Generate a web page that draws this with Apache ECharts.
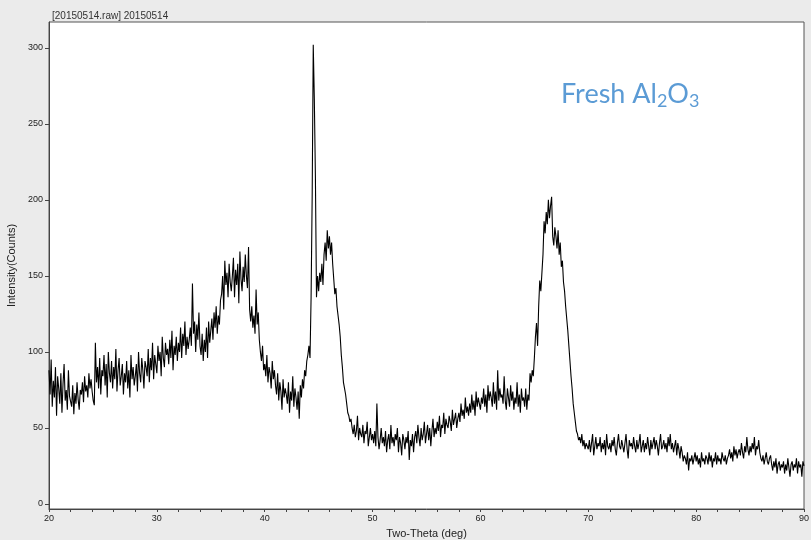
<html>

<head>
    <meta charset="utf-8" />
    <title>XRD 20150514</title>
    <script src="https://cdn.jsdelivr.net/npm/echarts@6.0.0/dist/echarts.min.js"></script>
    <style>
        body { margin: 0; background: #ebebeb; }
    </style>
    <script type="text/javascript">
        // scan settings (two-theta, deg)
        var thetaStart = 20;
        var thetaStep = 0.1;
        var xTicks = [20, 30, 40, 50, 60, 70, 80, 90];
        var yTicks = [0, 50, 100, 150, 200, 250, 300];

        // intensity (counts), one row per degree
        var counts = [
            88,72,95,64,81,70,90,58,84,76,
            66,86,60,79,92,68,75,62,88,71,
            70,64,78,59,73,66,80,69,62,75,
            72,80,67,84,74,78,70,86,76,82,
            74,68,65,106,80,90,76,96,72,88,
            84,98,78,92,70,100,86,80,94,76,
            90,82,102,74,88,96,78,84,92,72,
            86,80,94,76,88,70,98,82,90,78,
            84,92,74,100,86,80,96,88,76,94,
            90,84,102,80,96,88,106,82,98,92,
            86,104,94,100,84,110,96,90,106,98,   // 30
            102,92,108,96,114,88,104,98,110,94,
            106,100,116,96,112,104,120,98,110,102,
            108,116,104,145,112,120,100,118,108,126,
            104,98,112,94,108,100,116,96,120,106,
            114,122,108,126,116,130,112,124,118,134,
            138,150,128,160,144,152,136,158,146,140,
            150,162,136,154,144,158,132,166,148,140,
            156,146,164,150,142,169,128,120,130,116,
            124,112,141,118,126,108,100,94,104,88,
            92,84,98,80,90,86,76,94,82,88,        // 40
            78,72,86,68,80,74,62,82,70,76,
            72,66,80,60,74,68,84,64,76,70,
            62,74,56,78,70,82,76,88,84,94,
            98,104,96,136,202,302,266,215,136,150,
            140,152,146,158,144,164,172,160,180,168,
            176,164,172,158,148,138,142,130,124,118,
            110,98,90,80,76,72,66,60,58,54,
            56,50,46,52,44,48,58,42,50,46,
            44,52,40,48,46,54,38,44,50,42,
            46,40,48,38,66,44,36,42,50,40,        // 50
            44,38,48,34,42,46,36,52,40,44,
            38,46,42,50,34,44,40,32,46,42,
            36,44,40,48,29,42,38,46,34,44,
            48,40,52,44,38,50,42,46,54,40,
            46,52,42,50,38,48,56,44,50,46,
            54,48,58,44,52,50,60,46,56,52,
            50,58,54,48,62,52,56,60,50,56,
            60,54,66,58,62,56,70,60,64,58,
            66,60,72,62,68,58,74,64,70,66,
            62,70,66,76,64,72,60,78,68,74,        // 60
            70,64,80,66,74,62,88,68,76,70,
            72,66,84,68,62,76,70,64,78,68,
            74,62,70,66,80,64,72,60,76,68,
            70,64,76,62,72,68,86,80,88,84,
            96,110,119,104,130,147,140,152,164,186,
            178,192,184,200,188,196,202,176,170,182,
            176,168,180,164,172,156,160,146,140,130,
            122,114,104,94,84,76,66,60,54,48,
            46,42,44,40,46,38,42,36,40,38,
            36,42,34,40,46,32,38,44,36,40,        // 70
            38,44,34,40,36,42,32,46,38,36,
            40,34,42,38,44,36,32,40,46,38,
            36,42,38,34,40,46,36,30,42,38,
            40,36,44,38,34,42,36,40,46,34,
            38,42,34,40,36,44,38,32,42,36,
            40,44,36,42,38,32,40,46,36,38,
            42,36,40,34,44,38,46,36,40,34,
            38,42,32,40,36,30,38,34,28,32,
            30,26,34,22,30,28,32,26,30,34,
            28,32,26,30,24,34,28,30,26,32,        // 80
            30,26,34,28,32,24,30,28,34,26,
            32,28,30,26,34,30,28,32,26,30,
            32,36,30,34,28,38,32,36,30,34,
            36,32,40,34,30,38,34,44,36,32,
            38,34,40,36,44,32,38,36,42,34,
            30,28,32,26,30,34,28,26,30,32,
            26,22,28,24,30,20,26,28,22,26,
            24,28,20,26,22,30,24,18,26,28,
            22,26,24,30,20,28,24,26,18,28,
            25                                      // 90
        ];

        function renderScan() {
            var chartDom = document.getElementById('xrdChart');
            var chart = echarts.init(chartDom, null, { renderer: 'canvas' });

            var scanData = counts.map(function (c, i) {
                return [+(thetaStart + i * thetaStep).toFixed(2), c];
            });

            var option = {
                animation: false,
                backgroundColor: '#ebebeb',
                textStyle: { fontFamily: 'Liberation Sans, Arial, sans-serif' },
                title: [
                    {
                        text: '[20150514.raw] 20150514',
                        left: 47,
                        top: 6,
                        textStyle: { fontSize: 10, fontWeight: 'normal', color: '#333' }
                    },
                    {
                        // subscripts pushed down with top padding
                        text: '{a|Fresh Al}{s|2}{a|O}{s|3}',
                        left: 556,
                        top: 72,
                        textStyle: {
                            fontWeight: 'normal',
                            rich: {
                                a: { fontFamily: 'Lato', fontWeight: 'normal', fontSize: 27, color: '#5b9bd5', lineHeight: 34 },
                                s: { fontFamily: 'Lato', fontWeight: 'normal', fontSize: 18, color: '#5b9bd5', lineHeight: 13, padding: [15, 0, 0, 0] }
                            }
                        }
                    }
                ],
                grid: {
                    left: 49,
                    right: 7,
                    top: 22,
                    bottom: 31,
                    outerBoundsMode: 'none',
                    containLabel: false,
                    show: true,
                    backgroundColor: '#fff',
                    borderColor: '#555',
                    borderWidth: 1
                },
                xAxis: {
                    type: 'value',
                    min: 20,
                    max: 90,
                    interval: 10,
                    name: 'Two-Theta (deg)',
                    nameLocation: 'middle',
                    nameGap: 19,
                    nameTextStyle: { fontSize: 11, color: '#222' },
                    axisLine: { onZero: false, lineStyle: { color: '#444' } },
                    axisTick: { length: 3, lineStyle: { color: '#444' } },
                    minorTick: { show: true, splitNumber: 5, length: 3, lineStyle: { color: '#444' } },
                    axisLabel: { fontSize: 9, color: '#222', margin: 5, customValues: xTicks },
                    splitLine: { show: false }
                },
                yAxis: {
                    type: 'value',
                    min: -3.3,
                    max: 317,
                    name: 'Intensity(Counts)',
                    nameLocation: 'middle',
                    nameGap: 30,
                    nameTextStyle: { fontSize: 11, color: '#222' },
                    axisLine: { show: true, onZero: false, lineStyle: { color: '#444' } },
                    axisTick: { show: true, length: 4, customValues: yTicks, lineStyle: { color: '#444' } },
                    axisLabel: { fontSize: 9, color: '#222', margin: 6, customValues: yTicks },
                    splitLine: { show: false }
                },
                series: [
                    {
                        type: 'line',
                        data: scanData,
                        showSymbol: false,
                        clip: true,
                        lineStyle: { color: '#000', width: 1.1 }
                    }
                ]
            };
            chart.setOption(option);
        }
    </script>
</head>

<body>
    <div id="xrdChart" style="width: 811px;height:540px;"></div>
    <script type="text/javascript">
        renderScan();
    </script>
</body>

</html>
